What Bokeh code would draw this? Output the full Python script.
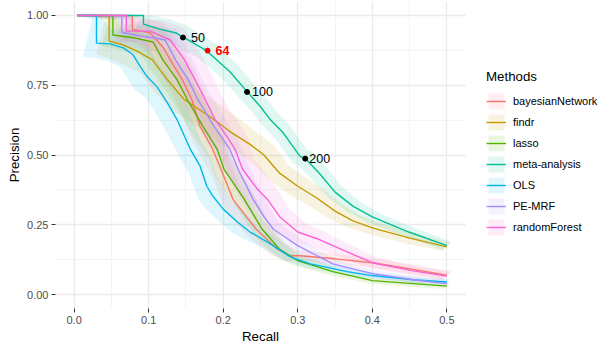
import numpy as np
from bokeh.plotting import figure
from bokeh.models import Range1d, FixedTicker, NumeralTickFormatter, Legend, LegendItem, ColumnDataSource, Title
from bokeh.core.properties import value
from bokeh.embed import file_html
from bokeh.resources import INLINE

# ---------------- data ----------------
methods = ["bayesianNetwork", "findr", "lasso", "meta-analysis", "OLS", "PE-MRF", "randomForest"]

bn_recall = [0.004, 0.078, 0.078, 0.102, 0.119, 0.129, 0.145, 0.158, 0.169, 0.186, 0.197, 0.213, 0.228, 0.244, 0.258, 0.272, 0.290, 0.303, 0.350, 0.400, 0.449, 0.500]
bn_precision = [1.000, 1.000, 0.951, 0.937, 0.887, 0.841, 0.770, 0.698, 0.602, 0.520, 0.449, 0.342, 0.289, 0.235, 0.200, 0.164, 0.139, 0.139, 0.128, 0.114, 0.093, 0.069]
bn_band = [0.0, 0.015, 0.04, 0.04, 0.04, 0.04, 0.04, 0.04, 0.035, 0.035, 0.03, 0.03, 0.03, 0.028, 0.025, 0.022, 0.02, 0.018, 0.016, 0.015, 0.015, 0.015]

findr_recall = [0.004, 0.047, 0.047, 0.063, 0.084, 0.105, 0.125, 0.148, 0.182, 0.209, 0.236, 0.254, 0.276, 0.300, 0.326, 0.350, 0.374, 0.400, 0.449, 0.500]
findr_precision = [1.000, 1.000, 0.908, 0.897, 0.873, 0.841, 0.770, 0.698, 0.638, 0.584, 0.538, 0.502, 0.434, 0.388, 0.345, 0.299, 0.264, 0.239, 0.203, 0.171]
findr_band = [0.0, 0.015, 0.045, 0.05, 0.05, 0.045, 0.045, 0.04, 0.04, 0.04, 0.035, 0.035, 0.03, 0.03, 0.028, 0.025, 0.022, 0.02, 0.018, 0.015]

lasso_recall = [0.004, 0.052, 0.052, 0.082, 0.106, 0.119, 0.138, 0.152, 0.173, 0.192, 0.201, 0.228, 0.252, 0.275, 0.300, 0.326, 0.347, 0.400, 0.455, 0.500]
lasso_precision = [1.000, 1.000, 0.930, 0.919, 0.905, 0.841, 0.770, 0.698, 0.602, 0.520, 0.449, 0.342, 0.235, 0.164, 0.121, 0.100, 0.082, 0.050, 0.039, 0.030]
lasso_band = [0.0, 0.015, 0.04, 0.045, 0.045, 0.04, 0.04, 0.035, 0.035, 0.03, 0.03, 0.028, 0.025, 0.02, 0.016, 0.014, 0.012, 0.01, 0.01, 0.01]

meta_recall = [0.004, 0.093, 0.093, 0.115, 0.137, 0.146, 0.178, 0.209, 0.232, 0.250, 0.263, 0.280, 0.303, 0.310, 0.330, 0.350, 0.374, 0.400, 0.449, 0.500]
meta_precision = [1.000, 1.000, 0.969, 0.951, 0.937, 0.923, 0.873, 0.798, 0.727, 0.673, 0.627, 0.581, 0.495, 0.488, 0.431, 0.367, 0.317, 0.278, 0.224, 0.175]
meta_band = [0.0, 0.015, 0.035, 0.035, 0.03, 0.03, 0.028, 0.026, 0.025, 0.025, 0.025, 0.025, 0.025, 0.025, 0.024, 0.022, 0.02, 0.018, 0.016, 0.015]

ols_recall = [0.004, 0.030, 0.030, 0.048, 0.066, 0.079, 0.089, 0.098, 0.111, 0.125, 0.138, 0.156, 0.169, 0.178, 0.186, 0.200, 0.219, 0.236, 0.259, 0.290, 0.317, 0.366, 0.400, 0.455, 0.500]
ols_precision = [1.000, 1.000, 0.901, 0.898, 0.884, 0.859, 0.816, 0.780, 0.745, 0.688, 0.627, 0.520, 0.460, 0.388, 0.353, 0.306, 0.260, 0.224, 0.189, 0.135, 0.110, 0.082, 0.068, 0.053, 0.045]
ols_band = [0.0, 0.015, 0.05, 0.05, 0.05, 0.045, 0.045, 0.045, 0.04, 0.04, 0.04, 0.035, 0.035, 0.035, 0.035, 0.03, 0.03, 0.025, 0.02, 0.016, 0.014, 0.012, 0.01, 0.01, 0.01]

pemrf_recall = [0.004, 0.064, 0.064, 0.089, 0.109, 0.122, 0.136, 0.153, 0.166, 0.188, 0.209, 0.220, 0.240, 0.254, 0.267, 0.286, 0.300, 0.326, 0.347, 0.400, 0.455, 0.500]
pemrf_precision = [1.000, 1.000, 0.940, 0.926, 0.919, 0.912, 0.841, 0.770, 0.698, 0.602, 0.520, 0.449, 0.342, 0.281, 0.235, 0.200, 0.175, 0.139, 0.110, 0.075, 0.053, 0.039]
pemrf_band = [0.0, 0.015, 0.04, 0.04, 0.04, 0.04, 0.04, 0.035, 0.035, 0.035, 0.03, 0.03, 0.028, 0.025, 0.022, 0.02, 0.018, 0.016, 0.014, 0.012, 0.01, 0.01]

rf_recall = [0.004, 0.070, 0.070, 0.102, 0.129, 0.148, 0.162, 0.176, 0.189, 0.205, 0.216, 0.226, 0.246, 0.259, 0.276, 0.300, 0.326, 0.347, 0.400, 0.455, 0.500]
rf_precision = [1.000, 1.000, 0.944, 0.944, 0.912, 0.841, 0.770, 0.698, 0.627, 0.566, 0.520, 0.449, 0.377, 0.342, 0.278, 0.224, 0.200, 0.175, 0.114, 0.085, 0.066]
rf_band = [0.0, 0.015, 0.04, 0.04, 0.045, 0.045, 0.045, 0.045, 0.045, 0.045, 0.045, 0.04, 0.04, 0.035, 0.032, 0.03, 0.026, 0.022, 0.018, 0.015, 0.015]

# labelled cut-offs on the meta-analysis curve
cut_labels = ["50", "64", "100", "200"]
cut_recall = [0.146, 0.179, 0.232, 0.310]
cut_precision = [0.921, 0.874, 0.726, 0.487]

x_ticks = [0.0, 0.1, 0.2, 0.3, 0.4, 0.5]
x_minor = [0.05, 0.15, 0.25, 0.35, 0.45]
y_ticks = [0.0, 0.25, 0.5, 0.75, 1.0]
y_minor = [0.125, 0.375, 0.625, 0.875]

# ---------------- styling / layout ----------------
colors = ["#F8766D", "#C49A00", "#53B400", "#00C094", "#00B6EB", "#A58AFF", "#FB61D7"]
series = [
    (bn_recall, bn_precision, bn_band),
    (findr_recall, findr_precision, findr_band),
    (lasso_recall, lasso_precision, lasso_band),
    (meta_recall, meta_precision, meta_band),
    (ols_recall, ols_precision, ols_band),
    (pemrf_recall, pemrf_precision, pemrf_band),
    (rf_recall, rf_precision, rf_band),
]

W, H = 601, 343
BL, BT, BB = 55, 1, 33
FW, FH = W - BL, H - BT - BB          # the frame also hosts the legend area on the right
PANEL_W = 410                          # width of the data panel in pixels
PANEL_X = (-0.025, 0.525)              # data extent of the panel
PPU = PANEL_W / (PANEL_X[1] - PANEL_X[0])
XR = (PANEL_X[0], PANEL_X[0] + FW / PPU)
YR = (-0.05, 1.05)
FONT = "Liberation Sans"

p = figure(width=W, height=H,
           min_border_left=BL, min_border_right=0, min_border_top=BT, min_border_bottom=BB,
           x_range=Range1d(*XR), y_range=Range1d(*YR),
           output_backend="svg", toolbar_location=None,
           background_fill_color="white", border_fill_color="white",
           outline_line_color=None, y_axis_label="Precision")

# recall units corresponding to one precision unit on screen
K = (1.0 / PPU) * (FH / (YR[1] - YR[0]))

band_renderers = []
for (r, pr, b), c in zip(series, colors):
    r = np.asarray(r); pr = np.asarray(pr); b = np.asarray(b)
    ux = r + b * K
    uy = np.minimum(pr + b, 1.0)
    lx = r - b * K
    ly = np.maximum(pr - b, 0.0)
    xs = np.concatenate([ux, lx[::-1]])
    ys = np.concatenate([uy, ly[::-1]])
    band_renderers.append(p.patch(xs, ys, fill_color=c, fill_alpha=0.12, line_alpha=0))

line_renderers = []
for (r, pr, b), c in zip(series, colors):
    line_renderers.append(p.line(r, pr, line_color=c, line_width=1.4))

# cut-off points and labels
black_idx = [i for i, t in enumerate(cut_labels) if t != "64"]
red_idx = [i for i, t in enumerate(cut_labels) if t == "64"]
offsets = {"50": 8, "64": 8, "100": 5, "200": 4}

src_b = ColumnDataSource(dict(x=[cut_recall[i] for i in black_idx], y=[cut_precision[i] for i in black_idx],
                              t=[cut_labels[i] for i in black_idx], xo=[offsets[cut_labels[i]] for i in black_idx]))
src_r = ColumnDataSource(dict(x=[cut_recall[i] for i in red_idx], y=[cut_precision[i] for i in red_idx],
                              t=[cut_labels[i] for i in red_idx], xo=[offsets[cut_labels[i]] for i in red_idx]))
p.scatter("x", "y", source=src_b, size=5, color="black")
p.scatter("x", "y", source=src_r, size=5, color="red")
p.text("x", "y", text="t", source=src_b, x_offset="xo", text_align="left", text_baseline="middle",
       text_font=value(FONT), text_font_size="12.5px", text_color="black")
p.text("x", "y", text="t", source=src_r, x_offset="xo", text_align="left", text_baseline="middle",
       text_font=value(FONT), text_font_size="12.5px", text_color="red", text_font_style="bold")

# axes
p.xaxis.ticker = FixedTicker(ticks=x_ticks, minor_ticks=x_minor)
p.yaxis.ticker = FixedTicker(ticks=y_ticks, minor_ticks=y_minor)
p.xaxis.formatter = NumeralTickFormatter(format="0.0")
p.yaxis.formatter = NumeralTickFormatter(format="0.00")
for ax in (p.xaxis[0], p.yaxis[0]):
    ax.axis_line_color = None
    ax.major_tick_line_color = "#333333"
    ax.major_tick_line_width = 1
    ax.major_tick_out = 4
    ax.major_tick_in = 0
    ax.minor_tick_line_color = None
    ax.major_label_text_font = FONT
    ax.major_label_text_font_size = "11px"
    ax.major_label_text_color = "#4D4D4D"
    ax.axis_label_text_font = FONT
    ax.axis_label_text_font_size = "13.3px"
    ax.axis_label_text_font_style = "normal"
    ax.axis_label_text_color = "black"
p.xaxis.major_label_standoff = 3
p.yaxis.major_label_standoff = 3
p.yaxis.axis_label_standoff = 2

# x-axis title, centred under the data panel (not under the wider frame)
title_w = 37
p.add_layout(Title(text="Recall", align="left", offset=PANEL_W / 2 - title_w / 2, standoff=0,
                   text_font=FONT, text_font_size="13.3px", text_font_style="normal",
                   text_color="black"), "below")

p.grid.grid_line_color = "#EBEBEB"
p.grid.grid_line_width = 1.3
p.grid.minor_grid_line_color = "#EFEFEF"
p.grid.minor_grid_line_width = 0.7
try:
    p.ygrid.cross_bounds = PANEL_X
except Exception:
    p.ygrid.visible = False
    for yy in y_ticks:
        p.line([PANEL_X[0], PANEL_X[1]], [yy, yy], line_color="#EBEBEB", line_width=1.3, level="underlay")
    for yy in y_minor:
        p.line([PANEL_X[0], PANEL_X[1]], [yy, yy], line_color="#EFEFEF", line_width=0.7, level="underlay")

# legend (inside the wide frame, right of the data panel)
items = [LegendItem(label=m, renderers=[b, l]) for m, b, l in zip(methods, band_renderers, line_renderers)]
legend = Legend(items=items, location=(PANEL_W + 21, 71), title="Methods",
                title_text_font=FONT, title_text_font_size="13.3px", title_text_font_style="normal",
                title_text_color="black", title_standoff=7,
                label_text_font=FONT, label_text_font_size="11px", label_text_color="black",
                glyph_width=20, glyph_height=20, label_height=20, spacing=1, label_standoff=7,
                padding=0, margin=0, background_fill_alpha=0, border_line_alpha=0)
p.add_layout(legend, "center")

open("out.html", "w").write(file_html(p, INLINE))
